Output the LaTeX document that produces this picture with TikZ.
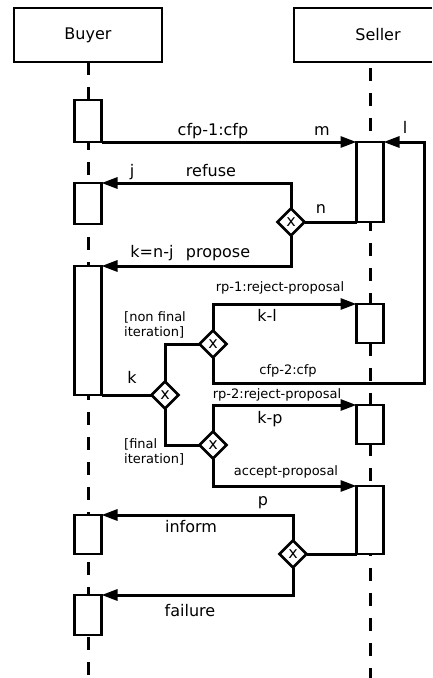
\documentclass[tikz,border=0pt]{standalone}
\usepackage{fontspec}
\setmainfont{DejaVu Sans}
\usetikzlibrary{shapes.geometric,arrows.meta}
\begin{document}
\begin{tikzpicture}[x=1pt,y=-1pt,
  lbl/.style={inner sep=0pt, font=\fontsize{16}{19}\selectfont, text height=11.5pt, text depth=3.2pt},
  slbl/.style={inner sep=0pt, font=\fontsize{13}{15}\selectfont, text height=9.4pt, text depth=2.6pt},
  act/.style={draw, line width=2.5pt, fill=white, minimum width=27pt, inner sep=0pt, outer sep=0pt},
  dia/.style={diamond, draw, line width=2.5pt, fill=white, minimum width=27pt, minimum height=27pt, inner sep=0pt, outer sep=0pt, font=\fontsize{16}{16}\selectfont},
  con/.style={line width=3pt},
  arr/.style={con, -{Triangle[length=16pt,width=11pt]}},
  life/.style={line width=3pt, dash pattern=on 13pt off 12pt},
  head/.style={line width=2.5pt}
]
\useasboundingbox (0,0) rectangle (432,678);

% lifelines
\draw[life] (88,62) -- (88,678);
\draw[life] (370,68) -- (370,678);

% heads
\node[draw, head, minimum width=148pt, minimum height=54pt, inner sep=0pt, outer sep=0pt, font=\fontsize{16}{19}\selectfont, fill=white] (buyer) at (88,35) {Buyer};
\fill[white] (294,8) rectangle (432,62);
\draw[head] (432,8) -- (294,8) -- (294,62) -- (432,62);
\node[inner sep=0pt, font=\fontsize{16}{19}\selectfont] (seller) at (378,35) {Seller};

% activation boxes, buyer
\node[act, minimum height=42pt] (b1) at (88,121) {};
\node[act, minimum height=41pt] (b2) at (88,203.5) {};
\node[act, minimum height=129pt] (b3) at (88,330.5) {};
\node[act, minimum height=39pt] (b4) at (88,534.5) {};
\node[act, minimum height=40pt] (b5) at (88,615) {};

% activation boxes, seller
\node[act, minimum height=80pt] (sA) at (370,182) {};
\node[act, minimum height=39pt] (sB) at (370,323.5) {};
\node[act, minimum height=39pt] (sC) at (370,424.5) {};
\node[act, minimum height=68pt] (sD) at (370,520) {};

% decision diamonds
\node[dia] (d1) at (291,222) {x};
\node[dia] (d2) at (165,395) {x};
\node[dia] (d3) at (213,344) {x};
\node[dia] (d4) at (213,445) {x};
\node[dia] (d5) at (293,554) {x};

\coordinate (lc) at (424,383);

% connectors
\draw[arr] (b1.south east) -- (sA.north west);
\draw[arr] (d3.south) |- (lc) |- (sA.north east);
\draw[con] (sA.south west) -- (d1.east);
\draw[arr] (d1.north) |- (b2.north east);
\draw[arr] (d1.south) |- (b3.north east);
\draw[con] (b3.south east) -- (d2.west);
\draw[con] (d2.north) |- (d3.west);
\draw[con] (d2.south) |- (d4.west);
\draw[arr] (d3.north) |- (sB.north west);
\draw[arr] (d4.north) |- (sC.north west);
\draw[arr] (d4.south) |- (sD.north west);
\draw[con] (sD.south west) -- (d5.east);
\draw[arr] (d5.north) |- (b4.north east);
\draw[arr] (d5.south) |- (b5.north east);

% labels
\node[lbl] (tcfp1) at (213,131) {cfp-1:cfp};
\node[lbl] (tm) at (322,131) {m};
\node[lbl] (tl) at (405,129) {l};
\node[lbl] (tj) at (132,172) {j};
\node[lbl] (tref) at (211,172) {refuse};
\node[lbl] (tn) at (321,209) {n};
\node[lbl] (tknj) at (152,253) {k=n-j};
\node[lbl] (tprop) at (218,253) {propose};
\node[slbl] (trp1) at (280,288) {rp-1:reject-proposal};
\node[lbl] (tkl) at (267,317) {k-l};
\node[slbl, align=left, anchor=west, font=\fontsize{13}{15.5}\selectfont, text height=, text depth=] (tnf) at (124,325) {[non final\\iteration]};
\node[slbl] (tcfp2) at (288,371) {cfp-2:cfp};
\node[lbl] (tk) at (132,379) {k};
\node[slbl] (trp2) at (277,395) {rp-2:reject-proposal};
\node[lbl] (tkp) at (270,419) {k-p};
\node[slbl, align=left, anchor=west, font=\fontsize{13}{15.5}\selectfont, text height=, text depth=] (tfi) at (124,452) {[final\\iteration]};
\node[slbl] (tacc) at (286,472) {accept-proposal};
\node[lbl] (tp) at (263,501) {p};
\node[lbl] (tinf) at (191,528) {inform};
\node[lbl] (tfail) at (190,612) {failure};
\end{tikzpicture}
\end{document}
